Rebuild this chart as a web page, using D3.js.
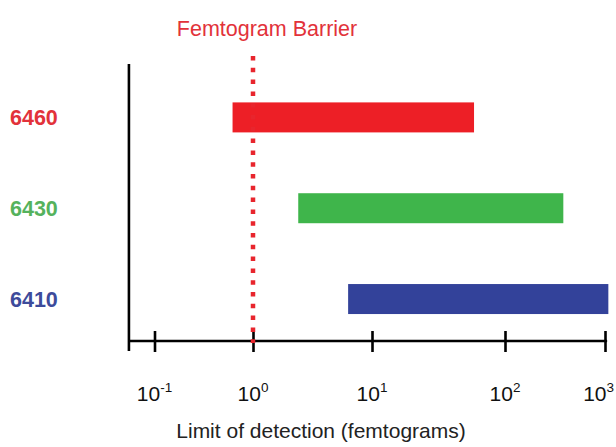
<!DOCTYPE html>
<html>
<head>
<meta charset="utf-8">
<script src="https://cdn.jsdelivr.net/npm/d3@7"></script>
<style>
  html, body { margin: 0; padding: 0; background: #fff; }
  svg { display: block; font-family: "Liberation Sans", Arial, Helvetica, sans-serif; }
</style>
</head>
<body>
<svg id="chart" width="616" height="447"></svg>
<script>
// ---- data ----
const categories = ["6460", "6430", "6410"];
const lowValues  = [0.62, 2.4, 6.3];      // femtograms, bar start
const highValues = [58.5, 383, 1080];      // femtograms, bar end
const barColors   = ["#ed1f26", "#3fb54b", "#33429a"];
const labelColors = ["#e2323a", "#55b25c", "#3d4b9b"];
const tickValues  = [0.1, 1, 10, 100, 1000];
const tickExponents = ["-1", "0", "1", "2", "3"];
const barrierValue = 1;
const barrierLabel = "Femtogram Barrier";
const axisTitle = "Limit of detection (femtograms)";
const axisExtent = [0.055, 1050];

// ---- layout ----
const W = 616, H = 447;
const plotTop = 64, axisY = 341;
const svg = d3.select("#chart");

// piecewise log scale (the original axis is not uniformly spaced)
const x = d3.scaleLog()
  .domain(tickValues)
  .range([154.5, 253, 372, 505, 605]);

const y = d3.scalePoint()
  .domain(categories)
  .range([plotTop, axisY])
  .padding(0.525)
  .align(0.56);

const barH = 30;
const rows = categories.map((c, i) => ({
  cat: c, lo: lowValues[i], hi: highValues[i], color: barColors[i], lcolor: labelColors[i]
}));

// bars
svg.append("g").selectAll("rect").data(rows).join("rect")
  .attr("x", d => x(d.lo))
  .attr("width", d => x(d.hi) - x(d.lo))
  .attr("y", d => y(d.cat) - barH / 2)
  .attr("height", barH)
  .attr("fill", d => d.color);

// category labels
svg.append("g").selectAll("text").data(rows).join("text")
  .attr("x", 10)
  .attr("y", d => y(d.cat))
  .attr("dy", "0.36em")
  .attr("font-size", 21.5)
  .attr("font-weight", "bold")
  .attr("fill", d => d.lcolor)
  .text(d => d.cat);

// vertical axis line
svg.append("line")
  .attr("x1", x(axisExtent[0])).attr("x2", x(axisExtent[0]))
  .attr("y1", plotTop).attr("y2", axisY + 10)
  .attr("stroke", "#000").attr("stroke-width", 2.6);

// x axis
const xAxis = d3.axisBottom(x)
  .tickValues(tickValues)
  .tickSize(11)
  .tickFormat("");
const gx = svg.append("g")
  .attr("transform", `translate(0,${axisY})`)
  .call(xAxis);
gx.select(".domain").remove();
gx.selectAll(".tick line")
  .attr("y1", -10).attr("y2", 11)
  .attr("stroke", "#000").attr("stroke-width", 2.6);
gx.append("line")
  .attr("x1", x(axisExtent[0])).attr("x2", x(axisExtent[1]))
  .attr("y1", 0).attr("y2", 0)
  .attr("stroke", "#000").attr("stroke-width", 2.6);

// tick labels 10^n
const tl = svg.append("g").selectAll("text").data(tickValues).join("text")
  .attr("x", d => x(d))
  .attr("y", 401)
  .attr("text-anchor", "middle")
  .attr("font-size", 21)
  .attr("fill", "#111");
tl.append("tspan").text("10");
tl.append("tspan")
  .attr("dy", -9)
  .attr("font-size", 13.5)
  .text((d, i) => tickExponents[i]);
// keep labels inside the picture
tl.each(function () {
  const bb = this.getBBox();
  const over = bb.x + bb.width - (W - 2);
  if (over > 0) d3.select(this).attr("x", +d3.select(this).attr("x") - over);
});

// barrier line (dotted)
svg.append("line")
  .attr("x1", x(barrierValue)).attr("x2", x(barrierValue))
  .attr("y1", 56).attr("y2", axisY + 2)
  .attr("stroke", "#e8252d")
  .attr("stroke-width", 4.5)
  .attr("stroke-dasharray", "4.5,7.3");

// barrier label
svg.append("text")
  .attr("x", 267)
  .attr("y", 36)
  .attr("text-anchor", "middle")
  .attr("font-size", 21.5)
  .attr("fill", "#e2323a")
  .text(barrierLabel);

// axis title
svg.append("text")
  .attr("x", 321)
  .attr("y", 438)
  .attr("text-anchor", "middle")
  .attr("font-size", 21)
  .attr("fill", "#222")
  .text(axisTitle);
</script>
</body>
</html>
